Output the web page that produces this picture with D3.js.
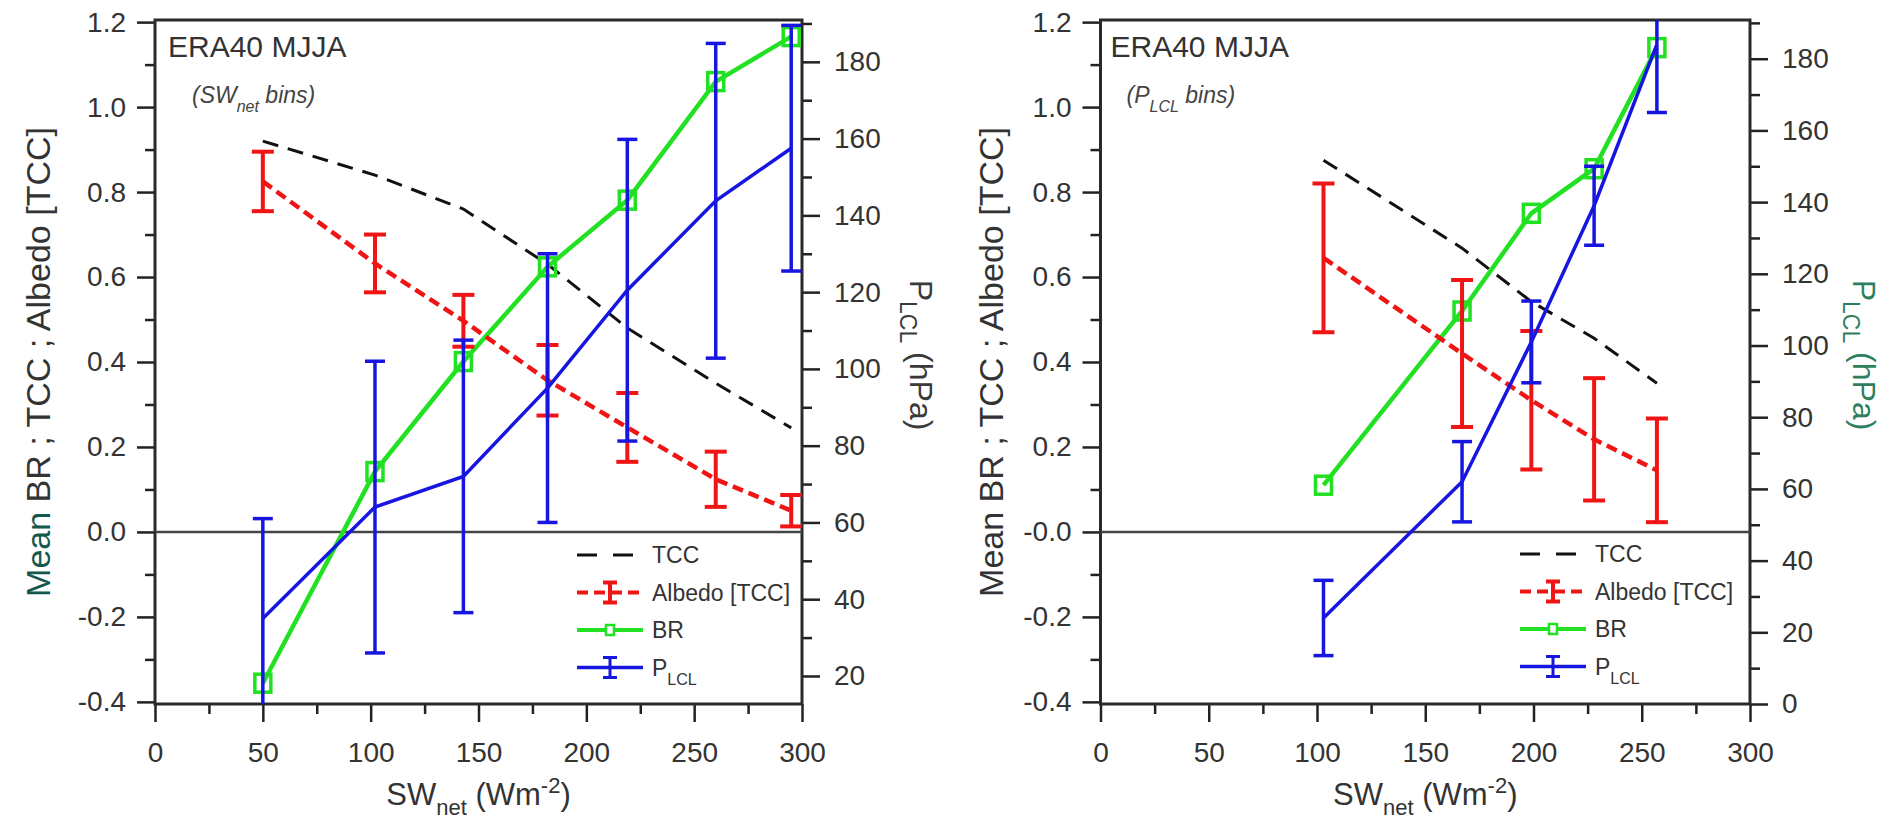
<!DOCTYPE html>
<html>
<head>
<meta charset="utf-8">
<script src="https://cdn.jsdelivr.net/npm/d3@7"></script>
<style>
  body { margin: 0; background: #fff; }
  svg { display: block; font-family: "Liberation Sans", Arial, sans-serif; }
</style>
</head>
<body>
<svg id="chart" width="1899" height="823"></svg>
<script>
// ---- left panel: binned by SW_net ----
const swBinsX     = [50, 102, 143, 182, 219, 260, 295];
const swTcc       = [0.92, 0.84, 0.76, 0.63, 0.48, 0.35, 0.245];
const swAlbedo    = [0.825, 0.632, 0.497, 0.357, 0.246, 0.124, 0.050];
const swAlbedoErr = [0.070, 0.068, 0.061, 0.083, 0.081, 0.065, 0.037];
const swBr        = [-0.356, 0.142, 0.401, 0.624, 0.781, 1.060, 1.166];
const swPlcl      = [35, 64, 72, 95, 120.5, 143.8, 157.5];
const swPlclErr   = [26, 38, 35.5, 35, 39.3, 41, 32];

// ---- right panel: binned by P_LCL ----
const plBinsX     = [103, 167, 199, 228, 257];
const plTcc       = [0.875, 0.668, 0.542, 0.456, 0.350];
const plAlbedo    = [0.645, 0.420, 0.310, 0.218, 0.145];
const plAlbedoErr = [0.175, 0.173, 0.163, 0.144, 0.122];
const plBr        = [0.11, 0.52, 0.75, 0.855, 1.14];
const plPlcl      = [24, 62, 101, 139, 184];
const plPlclErr   = [10.5, 11.2, 11.4, 11, 19];

// ---- ticks ----
const xTicks = [0, 50, 100, 150, 200, 250, 300];
const xMinor = [25, 75, 125, 175, 225, 275];
const yTicks = [-0.4, -0.2, 0, 0.2, 0.4, 0.6, 0.8, 1.0, 1.2];
const yMinor = [-0.3, -0.1, 0.1, 0.3, 0.5, 0.7, 0.9, 1.1];
const yLabelsSw = ["-0.4", "-0.2", "0.0", "0.2", "0.4", "0.6", "0.8", "1.0", "1.2"];
const yLabelsPl = ["-0.4", "-0.2", "-0.0", "0.2", "0.4", "0.6", "0.8", "1.0", "1.2"];
const y2TicksSw = [20, 40, 60, 80, 100, 120, 140, 160, 180];
const y2MinorSw = [30, 50, 70, 90, 110, 130, 150, 170, 190];
const y2TicksPl = [0, 20, 40, 60, 80, 100, 120, 140, 160, 180];
const y2MinorPl = [10, 30, 50, 70, 90, 110, 130, 150, 170, 190];

const legendNames = ["TCC", "Albedo [TCC]", "BR", "P"];

const RED = "#f01414", GREEN = "#22e022", BLUE = "#1616e0", INK = "#333";

const svg = d3.select("#chart");
svg.append("rect").attr("width", 1899).attr("height", 823).attr("fill", "#fff");

function drawPanel(p) {
  const top = 20, bottom = 704;
  const x = d3.scaleLinear().domain([0, 300]).range([p.left, p.right]);
  const y = d3.scaleLinear().domain([-0.405, 1.205]).range([bottom, top]);
  const y2 = d3.scaleLinear().domain(p.y2Domain).range([bottom, top]);

  const g = svg.append("g");

  const clipId = "clip" + p.id;
  svg.append("clipPath").attr("id", clipId)
    .append("rect")
    .attr("x", p.left).attr("y", top)
    .attr("width", p.right - p.left).attr("height", bottom - top);

  // axes
  const styleAxis = sel => {
    sel.select(".domain").remove();
    sel.selectAll(".tick line").attr("stroke", "#222").attr("stroke-width", 2.5);
    sel.selectAll(".tick text").attr("fill", INK).style("font-size", "28px");
  };

  g.append("g").attr("transform", `translate(0,${bottom})`)
    .call(d3.axisBottom(x).tickValues(xTicks).tickSize(18).tickPadding(20))
    .call(styleAxis);
  g.append("g").attr("transform", `translate(0,${bottom})`)
    .call(d3.axisBottom(x).tickValues(xMinor).tickSize(10).tickFormat(""))
    .call(styleAxis);

  g.append("g").attr("transform", `translate(${p.left},0)`)
    .call(d3.axisLeft(y).tickValues(yTicks).tickSize(18).tickPadding(11)
      .tickFormat((d, i) => p.yLabels[i]))
    .call(styleAxis);
  g.append("g").attr("transform", `translate(${p.left},0)`)
    .call(d3.axisLeft(y).tickValues(yMinor).tickSize(10).tickFormat(""))
    .call(styleAxis);

  g.append("g").attr("transform", `translate(${p.right},0)`)
    .call(d3.axisRight(y2).tickValues(p.y2Ticks).tickSize(18).tickPadding(14))
    .call(styleAxis);
  g.append("g").attr("transform", `translate(${p.right},0)`)
    .call(d3.axisRight(y2).tickValues(p.y2Minor).tickSize(10).tickFormat(""))
    .call(styleAxis);

  // frame and zero line
  g.append("rect")
    .attr("x", p.left).attr("y", top)
    .attr("width", p.right - p.left).attr("height", bottom - top)
    .attr("fill", "none").attr("stroke", "#2a2a2a").attr("stroke-width", 3);

  g.append("line")
    .attr("x1", p.left).attr("x2", p.right)
    .attr("y1", y(0)).attr("y2", y(0))
    .attr("stroke", "#444").attr("stroke-width", 2.5);

  const plot = g.append("g").attr("clip-path", `url(#${clipId})`);

  const pts = vals => p.xs.map((v, i) => [v, vals[i]]);

  // TCC
  plot.append("path")
    .datum(pts(p.tcc))
    .attr("d", d3.line().x(d => x(d[0])).y(d => y(d[1])))
    .attr("fill", "none").attr("stroke", "#111")
    .attr("stroke-width", 3).attr("stroke-dasharray", "16,10");

  // BR
  plot.append("path")
    .datum(pts(p.br))
    .attr("d", d3.line().x(d => x(d[0])).y(d => y(d[1])))
    .attr("fill", "none").attr("stroke", GREEN).attr("stroke-width", 4.5);
  plot.selectAll(".br")
    .data(pts(p.br))
    .join("rect")
    .attr("x", d => x(d[0]) - 8).attr("y", d => y(d[1]) - 9)
    .attr("width", 16).attr("height", 18)
    .attr("fill", "none").attr("stroke", GREEN).attr("stroke-width", 3.5);

  // Albedo
  plot.append("path")
    .datum(pts(p.albedo))
    .attr("d", d3.line().x(d => x(d[0])).y(d => y(d[1])))
    .attr("fill", "none").attr("stroke", RED)
    .attr("stroke-width", 4.5).attr("stroke-dasharray", "11,6");
  errorBars(plot, p.xs.map((v, i) => ({x: v, v: p.albedo[i], e: p.albedoErr[i]})), x, y, RED, 4, 22);

  // P_LCL
  plot.append("path")
    .datum(pts(p.plcl))
    .attr("d", d3.line().x(d => x(d[0])).y(d => y2(d[1])))
    .attr("fill", "none").attr("stroke", BLUE).attr("stroke-width", 3.5);
  errorBars(plot, p.xs.map((v, i) => ({x: v, v: p.plcl[i], e: p.plclErr[i]})), x, y2, BLUE, 3.5, 20);

  // annotations
  g.append("text")
    .attr("x", p.left + p.titleDx).attr("y", 57)
    .attr("fill", INK).style("font-size", "30px")
    .text("ERA40 MJJA");

  const sub = g.append("text")
    .attr("x", p.left + p.subDx).attr("y", 103)
    .attr("fill", "#444").style("font-size", "23px").style("font-style", "italic");
  sub.append("tspan").text(p.binMain);
  sub.append("tspan").attr("dy", 9).style("font-size", "16px").text(p.binSub);
  sub.append("tspan").attr("dy", -9).text(" bins)");

  // axis titles
  const cx = (p.left + p.right) / 2;
  const xt = g.append("text")
    .attr("x", cx).attr("y", 805)
    .attr("text-anchor", "middle").attr("fill", INK).style("font-size", "31px");
  xt.append("tspan").text("SW");
  xt.append("tspan").attr("dy", 10).style("font-size", "22px").text("net");
  xt.append("tspan").attr("dy", -10).text(" (Wm");
  xt.append("tspan").attr("dy", -12).style("font-size", "22px").text("-2");
  xt.append("tspan").attr("dy", 12).text(")");

  const yt = g.append("text")
    .attr("transform", `translate(${p.yTitleX},362) rotate(-90)`)
    .attr("text-anchor", "middle").attr("fill", INK).style("font-size", "34px");
  yt.append("tspan").attr("fill", p.meanColor).text("Mean");
  yt.append("tspan").text(" BR ; TCC ; Albedo [TCC]");

  const y2t = g.append("text")
    .attr("transform", `translate(${p.y2TitleX},355) rotate(90)`)
    .attr("text-anchor", "middle").attr("fill", p.y2Color).style("font-size", "32px");
  y2t.append("tspan").text("P");
  y2t.append("tspan").attr("dy", 10).style("font-size", "23px").text("LCL");
  y2t.append("tspan").attr("dy", -10).text(" (hPa)");

  // legend
  const lg = g.append("g");
  const lx0 = p.legendX, lx1 = p.legendX + 66, lmid = p.legendX + 33;
  legendNames.forEach((name, i) => {
    const ly = p.legendY + i * 37.5;
    const row = lg.append("g");
    if (i === 0) {
      row.append("line").attr("x1", lx0).attr("x2", lx0 + 56).attr("y1", ly).attr("y2", ly)
        .attr("stroke", "#111").attr("stroke-width", 3).attr("stroke-dasharray", "20,16");
    } else if (i === 1) {
      row.append("line").attr("x1", lx0).attr("x2", lx1).attr("y1", ly).attr("y2", ly)
        .attr("stroke", RED).attr("stroke-width", 4).attr("stroke-dasharray", "11,6");
      legendBar(row, lmid, ly, RED, 4);
    } else if (i === 2) {
      row.append("line").attr("x1", lx0).attr("x2", lx1).attr("y1", ly).attr("y2", ly)
        .attr("stroke", GREEN).attr("stroke-width", 4);
      row.append("rect").attr("x", lmid - 4).attr("y", ly - 5).attr("width", 8).attr("height", 10)
        .attr("fill", "#fff").attr("stroke", GREEN).attr("stroke-width", 2.5);
    } else {
      row.append("line").attr("x1", lx0).attr("x2", lx1).attr("y1", ly).attr("y2", ly)
        .attr("stroke", BLUE).attr("stroke-width", 3.5);
      legendBar(row, lmid, ly, BLUE, 3);
    }
    const t = row.append("text")
      .attr("x", lx1 + 9).attr("y", ly + 8)
      .attr("fill", INK).style("font-size", "23px");
    t.append("tspan").text(name);
    if (i === 3) t.append("tspan").attr("dy", 9).style("font-size", "16px").text("LCL");
  });
}

function errorBars(sel, data, x, y, color, sw, cap) {
  const eb = sel.append("g").attr("stroke", color).attr("stroke-width", sw);
  eb.selectAll(".stem").data(data).join("line")
    .attr("x1", d => x(d.x)).attr("x2", d => x(d.x))
    .attr("y1", d => y(d.v - d.e)).attr("y2", d => y(d.v + d.e));
  eb.selectAll(".capHi").data(data).join("line")
    .attr("x1", d => x(d.x) - cap / 2).attr("x2", d => x(d.x) + cap / 2)
    .attr("y1", d => y(d.v + d.e)).attr("y2", d => y(d.v + d.e));
  eb.selectAll(".capLo").data(data).join("line")
    .attr("x1", d => x(d.x) - cap / 2).attr("x2", d => x(d.x) + cap / 2)
    .attr("y1", d => y(d.v - d.e)).attr("y2", d => y(d.v - d.e));
}

function legendBar(sel, cx, cy, color, sw) {
  sel.append("line").attr("x1", cx).attr("x2", cx).attr("y1", cy - 10).attr("y2", cy + 10)
    .attr("stroke", color).attr("stroke-width", sw);
  sel.append("line").attr("x1", cx - 7).attr("x2", cx + 7).attr("y1", cy - 10).attr("y2", cy - 10)
    .attr("stroke", color).attr("stroke-width", sw);
  sel.append("line").attr("x1", cx - 7).attr("x2", cx + 7).attr("y1", cy + 10).attr("y2", cy + 10)
    .attr("stroke", color).attr("stroke-width", sw);
}

drawPanel({
  id: "sw", left: 155, right: 802,
  y2Domain: [12.7, 190.9], y2Ticks: y2TicksSw, y2Minor: y2MinorSw, yLabels: yLabelsSw,
  xs: swBinsX, tcc: swTcc, albedo: swAlbedo, albedoErr: swAlbedoErr,
  br: swBr, plcl: swPlcl, plclErr: swPlclErr,
  titleDx: 13, subDx: 37, binMain: "(SW", binSub: "net",
  yTitleX: 50, meanColor: "#14574c", y2TitleX: 910, y2Color: "#3a3a3a",
  legendX: 577, legendY: 555
});

drawPanel({
  id: "pl", left: 1100.5, right: 1750,
  y2Domain: [0, 190.8], y2Ticks: y2TicksPl, y2Minor: y2MinorPl, yLabels: yLabelsPl,
  xs: plBinsX, tcc: plTcc, albedo: plAlbedo, albedoErr: plAlbedoErr,
  br: plBr, plcl: plPlcl, plclErr: plPlclErr,
  titleDx: 10, subDx: 26, binMain: "(P", binSub: "LCL",
  yTitleX: 1003, meanColor: INK, y2TitleX: 1853, y2Color: "#2f7f5f",
  legendX: 1520, legendY: 554
});
</script>
</body>
</html>
